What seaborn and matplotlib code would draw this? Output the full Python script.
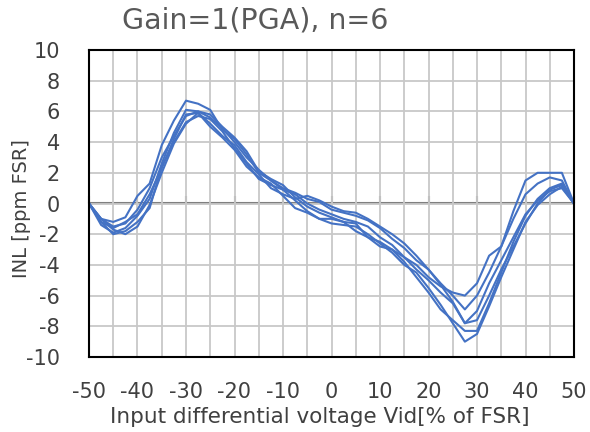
import numpy as np
import pandas as pd
import matplotlib
matplotlib.use("Agg")
import matplotlib.pyplot as plt
import seaborn as sns

# Input voltage [% of FSR] - grid in 2.5 % steps
vid = np.arange(-50, 50.1, 2.5)

# INL [ppm FSR] for 6 samples
inl_1 = [0, -1.0, -1.2, -0.9, 0.5, 1.3, 3.8, 5.4, 6.7, 6.5, 6.1, 4.8, 4.2, 3.2, 2.0, 1.5, 1.0, 0.7, 0.3, 0.1,
         -0.4, -0.6, -0.8, -1.1, -1.6, -2.3, -2.9, -3.7, -4.3, -5.2, -6.0, -6.9, -6.0, -4.5, -2.8, -1.0, 0.6, 1.3, 1.7, 1.5, 0]
inl_2 = [0, -1.4, -1.9, -1.6, -0.8, 0.3, 2.6, 4.6, 6.1, 6.0, 5.6, 4.9, 4.0, 3.0, 2.2, 1.5, 0.9, 0.6, 0.0, -0.4,
         -0.7, -1.0, -1.2, -1.5, -2.2, -2.7, -3.5, -4.0, -4.8, -5.4, -5.8, -6.0, -5.2, -3.4, -2.8, -0.5, 1.5, 2.0, 2.0, 2.0, 0]
inl_3 = [0, -1.0, -1.5, -1.3, -0.4, 1.0, 3.0, 4.4, 5.7, 6.0, 5.8, 5.0, 4.3, 3.4, 2.1, 1.6, 1.2, 0.4, -0.2, -0.6,
         -0.9, -1.2, -1.8, -2.2, -2.5, -3.0, -3.5, -4.3, -5.0, -5.8, -6.5, -7.8, -7.0, -5.2, -3.7, -2.2, -0.7, 0.2, 0.8, 1.0, 0]
inl_4 = [0, -1.2, -2.0, -1.8, -1.2, -0.3, 2.4, 4.0, 5.3, 5.7, 5.5, 4.7, 3.6, 2.6, 1.6, 1.2, 0.9, 0.2, -0.5, -1.0,
         -1.3, -1.4, -1.5, -2.0, -2.6, -3.2, -4.0, -4.5, -5.5, -6.6, -7.8, -9.0, -8.5, -6.7, -4.8, -3.0, -1.2, -0.1, 0.6, 1.1, 0]
inl_5 = [0, -1.2, -1.6, -1.2, -0.7, 0.6, 2.3, 4.2, 5.8, 5.9, 5.2, 4.4, 3.8, 2.7, 1.9, 1.0, 0.6, 0.3, 0.5, 0.2,
         -0.2, -0.5, -0.6, -1.0, -1.5, -2.0, -2.6, -3.4, -4.3, -5.3, -6.4, -7.8, -7.6, -6.0, -4.3, -2.8, -1.3, 0.0, 0.9, 1.2, 0]
inl_6 = [0, -1.0, -1.7, -2.0, -1.5, -0.1, 2.0, 3.9, 5.2, 5.9, 5.0, 4.3, 3.5, 2.4, 1.7, 1.3, 0.5, -0.3, -0.6, -1.0,
         -1.0, -1.2, -1.3, -2.2, -2.8, -3.0, -3.8, -4.8, -5.8, -6.9, -7.6, -8.3, -8.3, -6.5, -4.5, -2.5, -0.8, 0.3, 1.0, 1.3, 0]

runs = [inl_1, inl_2, inl_3, inl_4, inl_5, inl_6]
df = pd.concat([pd.DataFrame({"Vid": vid, "INL": r, "run": i}) for i, r in enumerate(runs)], ignore_index=True)

sns.set_style("white")
plt.rcParams['font.family'] = ['DejaVu Sans']
plt.rcParams['axes.unicode_minus'] = False

fig = plt.figure(figsize=(5.9, 4.32), dpi=100)
ax = fig.add_axes([89 / 590, 75 / 432, 485 / 590, 307 / 432])

sns.lineplot(data=df, x="Vid", y="INL", hue="run", units="run", estimator=None, sort=False,
             palette=["#4472C4"] * 6, linewidth=1.5, legend=False, ax=ax)

ax.set_xlim(-50, 50)
ax.set_ylim(-10, 10)
ax.set_xticks(np.arange(-50, 51, 10))
ax.set_xticks(np.arange(-50, 51, 5), minor=True)
ax.set_yticks(np.arange(-10, 11, 2))
ax.grid(True, which="both", axis="x", color="#C8C8C8", linewidth=1.3)
ax.grid(True, which="major", axis="y", color="#C8C8C8", linewidth=1.3)
ax.set_axisbelow(True)
for s in ax.spines.values():
    s.set_color("black")
    s.set_linewidth(1.5)

ax.tick_params(axis="both", which="both", length=0, colors="#404040", labelsize=15)
ax.tick_params(axis="y", pad=21)
ax.tick_params(axis="x", pad=18)

# horizontal axis line crossing at zero, with tick marks
zero_ax = ax.secondary_xaxis(0.5)
zero_ax.spines["top"].set_color("#7F7F7F")
zero_ax.spines["top"].set_linewidth(1.5)
zero_ax.set_xticks(np.arange(-50, 51, 10))
zero_ax.tick_params(axis="x", direction="out", length=5, width=1.5, color="#7F7F7F", labeltop=False, labelbottom=False)

ax.set_xlabel("Input differential voltage Vid[% of FSR]", fontsize=15.5, color="#404040")
ax.xaxis.label.set_va("center")
ax.xaxis.set_label_coords((320 - 89) / 485, -60 / 307)
ax.set_ylabel("INL [ppm FSR]", fontsize=14, color="#404040")
ax.yaxis.label.set_va("center")
ax.yaxis.set_label_coords((22 - 89) / 485, 0.485)

fig.text(255 / 590, 1 - 20 / 432, "Gain=1(PGA), n=6", fontsize=20.5, color="#595959", ha="center", va="center")

fig.savefig("out.png", dpi=100)
